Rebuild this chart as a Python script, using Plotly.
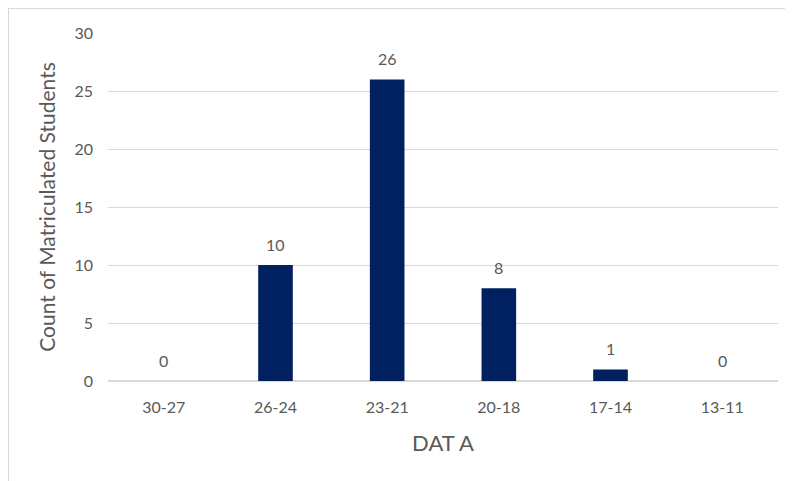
import plotly.graph_objects as go

categories = ["30-27", "26-24", "23-21", "20-18", "17-14", "13-11"]
counts = [0, 10, 26, 8, 1, 0]
y_ticks = [0, 5, 10, 15, 20, 25, 30]

W, H = 793, 481
L, R, T, B = 100, 23, 25, 108
pw, ph = W - L - R, H - T - B

font = "Lato, 'Open Sans', sans-serif"
gray = "#595959"

fig = go.Figure(go.Bar(
    x=categories, y=counts,
    marker=dict(color="#002060", line=dict(width=0)),
    cliponaxis=False,
))

for c, v in zip(categories, counts):
    fig.add_annotation(
        x=c, y=v, text=str(v), showarrow=False,
        yanchor="middle", yshift=21,
        font=dict(size=16, color=gray, family=font),
    )

fig.update_layout(
    width=W, height=H,
    margin=dict(l=L, r=R, t=T, b=B, autoexpand=False),
    paper_bgcolor="white", plot_bgcolor="white",
    bargap=0.69,
    showlegend=False,
    font=dict(family=font, color=gray),
    xaxis=dict(
        type="category",
        title=dict(text="DAT A", font=dict(size=22, color=gray), standoff=20),
        tickfont=dict(size=16, color=gray),
        showgrid=False, showline=False, ticks="", automargin=False,
        ticklabelstandoff=15,
    ),
    yaxis=dict(
        title=dict(text="Count of Matriculated Students", font=dict(size=21, color=gray), standoff=13),
        range=[0, 30], tickvals=y_ticks,
        tickfont=dict(size=16, color=gray),
        showgrid=True, gridcolor="#d9d9d9", gridwidth=1,
        zeroline=True, zerolinecolor="#d9d9d9", zerolinewidth=2,
        showline=False, ticks="", ticklabelstandoff=14, automargin=False,
    ),
    shapes=[dict(
        type="rect", xref="paper", yref="paper",
        x0=(0 - L) / pw, x1=(W + 10 - L) / pw,
        y0=-(B + 20) / ph, y1=(H - B) / ph,
        line=dict(color="#d9d9d9", width=2), layer="below",
    )],
)

fig.write_html("out.html")
